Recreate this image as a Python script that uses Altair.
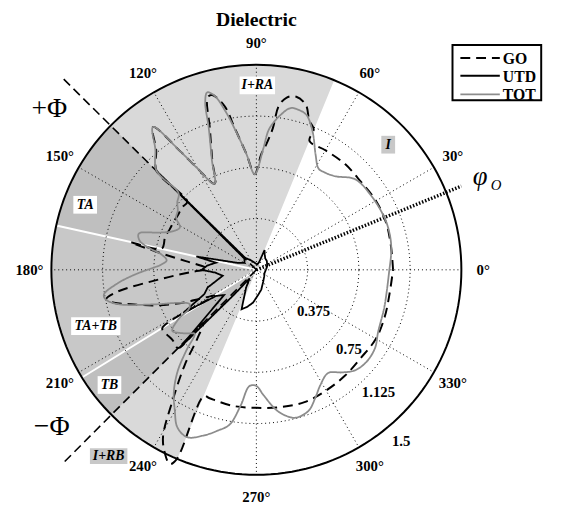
import math
import altair as alt
import pandas as pd

# ---------------- data ----------------
TITLE = "Dielectric"
SERIES = ["GO", "UTD", "TOT"]
SERIES_COLORS = ["#000000", "#000000", "#8c8c8c"]
SERIES_DASH = [[10, 6], [1, 0], [1, 0]]

GO_ANG = [0, 10, 20, 30, 40, 50, 60, 67.6,
          67.8, 70.5, 73.3, 77, 80, 82.2, 83.4, 85.5, 87.6, 91,
          94.9, 98.7, 101, 104.2, 105.8, 108.2, 112, 115.8,
          120.2, 122.7, 125.9, 130, 135.2,
          135.4, 140, 145, 150, 155, 160, 167.4,
          167.6, 170, 173, 176.8, 179, 182, 185.7, 189.1, 191.1, 193, 195.4, 200, 204.3, 207, 209.9, 211.6,
          211.8, 215, 220, 224.9,
          225.1, 229.4, 233, 237.4, 240.8, 243.5, 246, 247.2,
          247.4, 250, 260, 270, 280, 290, 300, 310, 320, 330, 340, 350, 360]
GO_R = [1.00, 1.00, 1.01, 1.01, 1.00, 1.01, 1.01, 1.02,
        1.11, 1.16, 1.26, 1.30, 1.28, 1.21, 1.04, 0.92, 0.845, 0.70,
        0.85, 1.05, 1.22, 1.32, 1.31, 1.09, 0.86, 0.70,
        0.86, 1.03, 1.29, 1.14, 1.03,
        0.71, 0.71, 0.70, 0.70, 0.70, 0.71, 0.71,
        0.94, 0.72, 0.52, 0.38, 0.36, 0.48, 0.72, 1.04, 1.12, 1.07, 0.95, 0.76, 0.58, 0.47, 0.39, 0.36,
        0.81, 0.81, 0.80, 0.81,
        0.55, 0.665, 0.87, 1.14, 1.40, 1.50, 1.556, 1.50,
        1.00, 1.00, 1.01, 1.01, 1.02, 1.03, 1.02, 1.01, 1.00, 1.01, 1.00, 0.99, 1.00]

UTD_ANG = [0, 20, 40, 52.4, 62, 67.5, 70, 80, 100, 120,
           133, 135.3, 136.8, 150, 160, 167.5, 170, 175, 180, 184,
           190, 195, 200, 205, 210.5, 213, 218, 222, 225.5, 228,
           232, 240, 249.4, 256, 264.3, 275, 284, 300, 320, 338.3, 360]
UTD_R = [0.07, 0.085, 0.10, 0.106, 0.13, 0.156, 0.06, 0.04, 0.05, 0.08,
         0.12, 1.03, 0.12, 0.10, 0.15, 0.45, 0.30, 0.36, 0.40, 0.30,
         0.25, 0.30, 0.38, 0.42, 0.62, 0.35, 0.30, 0.45, 0.80, 0.25,
         0.08, 0.15, 0.308, 0.28, 0.241, 0.18, 0.149, 0.10, 0.075, 0.064, 0.07]

TOT_ANG = [0, 8.3, 15, 22, 33, 42.6, 49.9, 55, 58.5, 62.8, 67.8, 72, 75, 78, 81, 84.8, 86.7, 91,
           94.9, 98.5, 101, 103.5, 105.5, 107, 108.5, 112, 116,
           120.2, 122.7, 125.9, 130, 135.2,
           135.4, 139.6, 143, 147, 151, 155, 159, 162.9, 166, 168.5, 171, 174, 177, 179, 182, 185.3,
           189.2, 191.1, 194, 198.8, 203, 207, 210, 212.5, 216, 220, 224, 226, 229, 232.2, 236, 239.9,
           243.4, 247.6, 252.5, 256.5, 260.2, 263.4, 266.6, 270, 273.2, 278, 281.5, 284.9, 290.3, 294.8,
           299, 304.8, 310, 314.4, 320, 326.6, 333, 344, 360]
TOT_R = [0.973, 0.998, 1.01, 1.012, 1.0, 0.98, 0.895, 0.87, 0.87, 0.948, 1.09, 1.19, 1.21, 1.21, 1.15, 1.035, 0.89, 0.70,
         0.85, 1.03, 1.18, 1.31, 1.347, 1.28, 1.10, 0.87, 0.70,
         0.86, 1.03, 1.29, 1.15, 1.03,
         0.80, 0.76, 0.72, 0.70, 0.64, 0.67, 0.76, 0.90, 0.88, 0.80, 0.70, 0.66, 0.70, 0.76, 0.88, 1.01,
         1.13, 1.124, 1.04, 0.784, 0.62, 0.55, 0.57, 0.68, 0.76, 0.72, 0.67, 0.65, 0.78, 0.94, 1.08, 1.19,
         1.29, 1.325, 1.27, 1.21, 1.149, 1.0, 0.852, 0.85, 0.917, 1.034, 1.09, 1.12, 1.10, 1.03,
         0.965, 0.92, 0.98, 1.03, 1.05, 1.04, 1.0, 0.975, 0.973]

RTICKS = [0.375, 0.75, 1.125, 1.5]
ATICKS = list(range(0, 360, 30))

# region boundaries (degrees)
LIT_A, FACE_A, SB_A, SB_B, FACE_B, LIT_B, PHI_O = 67.7, 135.3, 167.5, 211.7, 225.0, 247.3, 22.2
SECTOR_A1 = [LIT_A, FACE_A, SB_A, SB_B]
SECTOR_A2 = [LIT_B, SB_A, SB_B, FACE_B]
SECTOR_FILL = ["#d9d9d9", "#bfbfbf", "#c8c8c8", "#bfbfbf"]

REGION_LABELS = ["I+RA", "I", "TA", "TA+TB", "TB", "I+RB"]
REGION_FILL = ["white", "#c8c8c8", "white", "white", "white", "#c8c8c8"]

# ---------------- layout ----------------
FONT = "Liberation Serif"
PLOT = 416
RMAX = 1.5
U = PLOT / (2 * RMAX)          # pixels per data unit
REGION_POS = [(89.7, 1.35), (43.5, 1.33), (159.2, 1.34), (199.3, 1.245), (218.1, 1.366), (231.6, 1.74)]
REGION_BOX = [(36, 18), (14, 18), (24, 18), (50, 18), (24, 18), (38, 16)]
CIRCLE_STEP = 2  # degrees between vertices of the drawn grid circles

XS = alt.Scale(domain=[-RMAX, RMAX], nice=False, zero=False)
YS = alt.Scale(domain=[-RMAX, RMAX], nice=False, zero=False)
RS = alt.Scale(type="linear", domain=[0, RMAX], range=[0, PLOT / 2], zero=True, nice=False)
STROKE = alt.Scale(domain=SERIES, range=SERIES_COLORS)
DASH = alt.Scale(domain=SERIES, range=SERIES_DASH)


def X(f="x"):
    return alt.X(f"{f}:Q", scale=XS, axis=None)


def Y(f="y"):
    return alt.Y(f"{f}:Q", scale=YS, axis=None)


def polar(ch, a="a", r="r", x="x", y="y"):
    return ch.transform_calculate(**{
        x: f"datum.{r}*cos(datum.{a}*PI/180)",
        y: f"datum.{r}*sin(datum.{a}*PI/180)",
    })


# ---------------- fills ----------------
sectors = pd.DataFrame({"a1": SECTOR_A1, "a2": SECTOR_A2, "r": RMAX, "fill": SECTOR_FILL})
fills = alt.Chart(sectors).transform_calculate(
    t1="(90-datum.a2)*PI/180", t2="(90-datum.a1)*PI/180"
).mark_arc().encode(
    theta=alt.Theta("t1:Q", scale=None),
    theta2=alt.Theta2("t2:Q"),
    radius=alt.Radius("r:Q", scale=RS),
    fill=alt.Fill("fill:N", scale=None, legend=None),
)


def radial(angles, r1, **mk):
    df = pd.DataFrame({"a": angles, "r0": 0.0, "r1": r1})
    ch = alt.Chart(df)
    ch = polar(ch, r="r0", x="x", y="y")
    ch = polar(ch, r="r1", x="x2", y="y2")
    return ch.mark_rule(**mk).encode(x=X(), y=Y(), x2="x2:Q", y2="y2:Q")


white_lines = radial([SB_A, SB_B], RMAX, stroke="white", strokeWidth=2)
grid_radial = radial(ATICKS, RMAX, stroke="black", strokeWidth=1, strokeDash=[1, 3])

circ_rows = []
for k, rv in enumerate(RTICKS):
    for j, a in enumerate(range(0, 361, CIRCLE_STEP)):
        circ_rows.append({"c": k, "j": j, "a": a, "r": rv})
circ = pd.DataFrame(circ_rows)
grid_circles = polar(alt.Chart(circ).transform_filter(alt.datum.r < RMAX)).mark_line(
    stroke="black", strokeWidth=1, strokeDash=[1, 3]
).encode(x=X(), y=Y(), order="j:Q", detail="c:N")
outer = polar(alt.Chart(circ).transform_filter(alt.datum.r >= RMAX)).mark_line(
    stroke="black", strokeWidth=2
).encode(x=X(), y=Y(), order="j:Q", detail="c:N")

phi_lines = radial([FACE_A, FACE_B], 2.0, stroke="black", strokeWidth=1.6, strokeDash=[9, 5])
phio_line = radial([PHI_O], 1.62, stroke="black", strokeWidth=3.5, strokeDash=[1.5, 1.8])

# ---------------- curves ----------------
rows = []
for s, angs, rs in zip(SERIES, [GO_ANG, UTD_ANG, TOT_ANG], [GO_R, UTD_R, TOT_R]):
    for i, (a, r) in enumerate(zip(angs, rs)):
        rows.append({"series": s, "i": i, "a": a, "r": r})
curves = pd.DataFrame(rows)


def curve(name, interp, width):
    ch = alt.Chart(curves).transform_filter(alt.datum.series == name)
    ch = polar(ch)
    return ch.mark_line(interpolate=interp, strokeWidth=width).encode(
        x=X(), y=Y(), order="i:Q",
        stroke=alt.Stroke("series:N", scale=STROKE, legend=None),
        strokeDash=alt.StrokeDash("series:N", scale=DASH, legend=None),
    )


go_line = curve("GO", "catmull-rom", 2)
utd_line = curve("UTD", "linear", 1.8)
tot_line = curve("TOT", "catmull-rom", 1.8)

# ---------------- texts ----------------
def text_layer(df, **mk):
    return polar(alt.Chart(df)).mark_text(font=FONT, align="center", baseline="middle", **mk).encode(
        x=X(), y=Y(), text="label:N")


ang_lbl = text_layer(pd.DataFrame({"a": ATICKS, "r": 1.66, "label": [f"{a}°" for a in ATICKS]}),
                     fontSize=15, fontWeight="bold")
rdf = pd.DataFrame({"v": RTICKS, "label": [f"{v:g}" for v in RTICKS]})
rdf["a"] = -31 - 12.5 * rdf["v"]
rdf["r"] = rdf["v"] + 0.14
r_lbl = text_layer(rdf, fontSize=15, fontWeight="bold")

reg = pd.DataFrame({
    "label": REGION_LABELS, "box": REGION_FILL,
    "a": [p[0] for p in REGION_POS], "r": [p[1] for p in REGION_POS],
    "w": [b[0] for b in REGION_BOX], "h": [b[1] for b in REGION_BOX],
})
reg_box = polar(alt.Chart(reg)).transform_calculate(
    bx1=f"datum.x - datum.w/{2 * U}", bx2=f"datum.x + datum.w/{2 * U}",
    by1=f"datum.y - datum.h/{2 * U}", by2=f"datum.y + datum.h/{2 * U}",
).mark_rect().encode(x=X("bx1"), x2="bx2:Q", y=Y("by1"), y2="by2:Q",
                     fill=alt.Fill("box:N", scale=None, legend=None))
reg_txt = text_layer(reg, fontSize=14, fontWeight="bold", fontStyle="italic")

phi_txt = text_layer(pd.DataFrame({"label": ["+Φ", "−Φ"], "a": [142.2, 217.6], "r": [1.917, 1.89]}),
                     fontSize=28)
phio_txt = text_layer(pd.DataFrame({"label": ["φ"], "a": [22.5], "r": [1.772]}),
                      fontSize=27, fontStyle="italic")
phio_sub = text_layer(pd.DataFrame({"label": ["O"], "a": [19.4], "r": [1.86]}),
                      fontSize=15, fontStyle="italic")
title = text_layer(pd.DataFrame({"label": [TITLE], "a": [90], "r": [1.83]}),
                   fontSize=20, fontWeight="bold")

# ---------------- legend (drawn) ----------------
LEG_L, LEG_R, LEG_T, LEG_B = 199 / U, 289 / U, 228 / U, 172 / U
LEG_ROWS = [215 / U, 197 / U, 178 / U]
LEG_X1, LEG_X2, LEG_TX = 207 / U, 247 / U, 250 / U
leg_box = alt.Chart(pd.DataFrame({"x1": [LEG_L], "x2": [LEG_R], "y1": [LEG_B], "y2": [LEG_T]})).mark_rect(
    fill="white", stroke="black", strokeWidth=2
).encode(x=X("x1"), x2="x2:Q", y=Y("y1"), y2="y2:Q")
legdf = pd.DataFrame({"series": SERIES, "y": LEG_ROWS, "x1": LEG_X1, "x2": LEG_X2, "xt": LEG_TX})
leg_lines = alt.Chart(legdf).mark_rule(strokeWidth=2).encode(
    x=X("x1"), x2="x2:Q", y=Y("y"),
    stroke=alt.Stroke("series:N", scale=STROKE, legend=None),
    strokeDash=alt.StrokeDash("series:N", scale=DASH, legend=None),
)
leg_text = alt.Chart(legdf).mark_text(font=FONT, fontSize=16, fontWeight="bold", align="left",
                                      baseline="middle", dy=1).encode(
    x=X("xt"), y=Y("y"), text="series:N")

chart = alt.layer(
    fills, white_lines, grid_radial, grid_circles, outer, phi_lines, phio_line,
    go_line, utd_line, tot_line,
    ang_lbl, r_lbl, reg_box, reg_txt, phi_txt, phio_txt, phio_sub, title,
    leg_box, leg_lines, leg_text,
).properties(
    width=PLOT, height=PLOT, autosize="none",
    padding={"left": 44, "top": 54, "right": 95, "bottom": 28},
).configure_view(stroke=None)

chart.save("out.html", embed_options={"renderer": "svg", "actions": False})
